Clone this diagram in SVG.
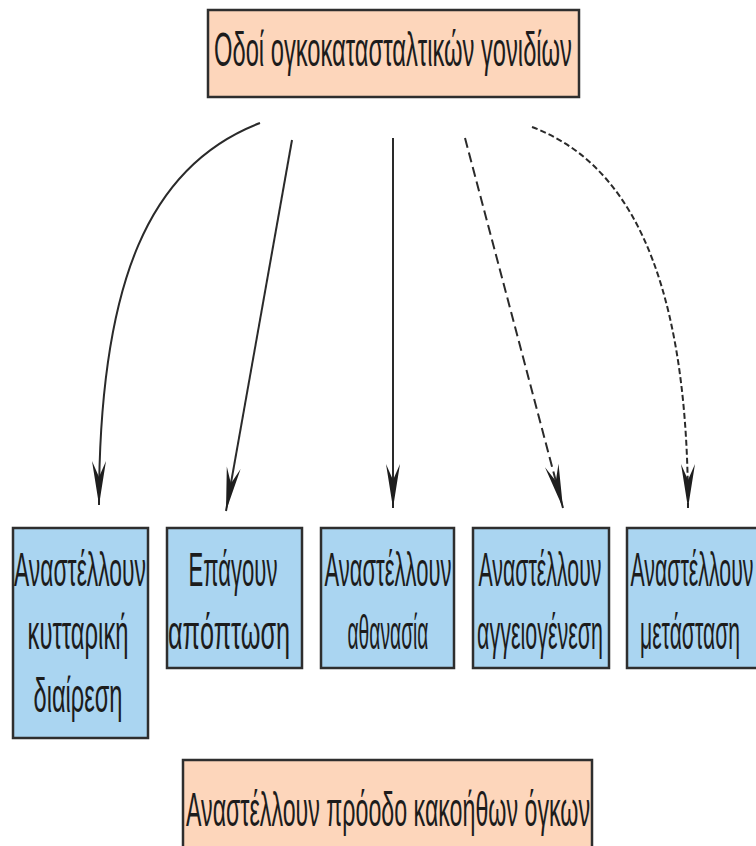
<svg xmlns="http://www.w3.org/2000/svg" width="756" height="846" viewBox="0 0 756 846">
<style>
.peach{fill:#FDD6BB;stroke:#2e2e2e;stroke-width:2.5}
.blue{fill:#AAD5F1;stroke:#2e2e2e;stroke-width:2.5}
.t{font-family:"Liberation Sans","DejaVu Sans",sans-serif;font-size:49px;fill:#1c1c1c;text-anchor:middle}
.c{fill:none;stroke:#2a2a2a;stroke-width:2}
</style>
<defs>
<marker id="ah" viewBox="-44 -8 46 16" markerWidth="46" markerHeight="16" refX="0" refY="0" orient="auto" markerUnits="userSpaceOnUse">
<path d="M0,0 L-44,-7 L-28,0 L-44,7 Z" fill="#1e1e1e"/>
</marker>
</defs>
<rect width="756" height="846" fill="#ffffff"/>
<g id="top">
<rect class="peach" x="208" y="10" width="371" height="87"/>
<text class="t" transform="scale(0.48,1)" x="818.75" y="66" textLength="745.8" lengthAdjust="spacingAndGlyphs">Οδοί ογκοκατασταλτικών γονιδίων</text>
</g>
<g id="connectors">
<path class="c" d="M260,123 C150,165 99,280 99,505" stroke-width="2.3" marker-end="url(#ah)"/>
<path class="c" d="M292,140 L226,511" marker-end="url(#ah)"/>
<path class="c" d="M393,138 L393,508" stroke="#444" marker-end="url(#ah)"/>
<path class="c" d="M465,138 L563,508" stroke-dasharray="10 5" marker-end="url(#ah)"/>
<path class="c" d="M532,127 C620,160 688,260 688,508" stroke-width="2.3" stroke-dasharray="6 3" marker-end="url(#ah)"/>
</g>
<g id="n1">
<rect class="blue" x="13" y="528" width="135" height="210"/>
<text class="t" transform="scale(0.48,1)" x="166.67" y="586" textLength="275" lengthAdjust="spacingAndGlyphs">Αναστέλλουν</text>
<text class="t" transform="scale(0.48,1)" x="162.5" y="649" textLength="210.4" lengthAdjust="spacingAndGlyphs">κυτταρική</text>
<text class="t" transform="scale(0.48,1)" x="162.5" y="712" textLength="185.4" lengthAdjust="spacingAndGlyphs">διαίρεση</text>
</g>
<g id="n2">
<rect class="blue" x="167" y="528" width="135" height="140"/>
<text class="t" transform="scale(0.48,1)" x="485.42" y="586" textLength="185.4" lengthAdjust="spacingAndGlyphs">Επάγουν</text>
<text class="t" transform="scale(0.48,1)" x="477.08" y="649" textLength="254.2" lengthAdjust="spacingAndGlyphs">απόπτωση</text>
</g>
<g id="n3">
<rect class="blue" x="321" y="528" width="133" height="140"/>
<text class="t" transform="scale(0.48,1)" x="808.33" y="586" textLength="264.6" lengthAdjust="spacingAndGlyphs">Αναστέλλουν</text>
<text class="t" transform="scale(0.48,1)" x="808.33" y="649" textLength="168.75" lengthAdjust="spacingAndGlyphs">αθανασία</text>
</g>
<g id="n4">
<rect class="blue" x="473" y="528" width="136" height="140"/>
<text class="t" transform="scale(0.48,1)" x="1125" y="586" textLength="256.25" lengthAdjust="spacingAndGlyphs">Αναστέλλουν</text>
<text class="t" transform="scale(0.48,1)" x="1125" y="649" textLength="262.5" lengthAdjust="spacingAndGlyphs">αγγειογένεση</text>
</g>
<g id="n5">
<rect class="blue" x="627" y="528" width="136" height="140"/>
<text class="t" transform="scale(0.48,1)" x="1441.67" y="586" textLength="256.25" lengthAdjust="spacingAndGlyphs">Αναστέλλουν</text>
<text class="t" transform="scale(0.48,1)" x="1437.5" y="649" textLength="208.3" lengthAdjust="spacingAndGlyphs">μετάσταση</text>
</g>
<g id="bottom">
<rect class="peach" x="183" y="760" width="409" height="92"/>
<text class="t" transform="scale(0.48,1)" x="808.33" y="826" textLength="841.7" lengthAdjust="spacingAndGlyphs">Αναστέλλουν πρόοδο κακοήθων όγκων</text>
</g>
</svg>
